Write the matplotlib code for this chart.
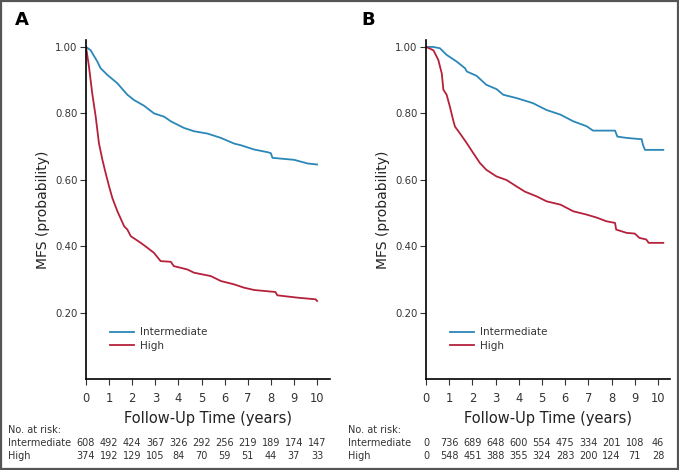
import matplotlib
matplotlib.use("Agg")
import matplotlib.pyplot as plt
from matplotlib.patches import Rectangle
import matplotlib.transforms as mtransforms

# Panel A (time in years, survival probability)
a_int_t = [0, 0.2, 0.49, 0.63, 0.92, 1.35, 1.79, 2.08, 2.51, 2.94, 3.38, 3.67, 4.24, 4.68,
           5.26, 5.84, 6.41, 6.7, 7.28, 7.86, 8.0, 8.07, 9.01, 9.59, 10.0]
a_int_s = [1.0, 0.99, 0.956, 0.936, 0.916, 0.891, 0.856, 0.84, 0.823, 0.80, 0.79, 0.776, 0.756, 0.746,
           0.739, 0.726, 0.709, 0.704, 0.691, 0.683, 0.68, 0.666, 0.66, 0.649, 0.646]
a_high_t = [0, 0.13, 0.27, 0.42, 0.56, 0.71, 0.85, 1.0, 1.14, 1.36, 1.65, 1.79, 1.94, 2.37, 2.66,
            2.94, 3.23, 3.67, 3.8, 4.38, 4.68, 5.4, 5.84, 6.41, 6.84, 7.28, 8.2, 8.28, 9.15, 9.94, 10.0]
a_high_s = [1.0, 0.94, 0.86, 0.79, 0.71, 0.66, 0.62, 0.58, 0.545, 0.505, 0.46, 0.45, 0.43, 0.41, 0.395,
            0.38, 0.355, 0.353, 0.34, 0.33, 0.32, 0.31, 0.295, 0.285, 0.275, 0.268, 0.262, 0.252, 0.245,
            0.24, 0.235]

# Panel B
b_int_t = [0, 0.3, 0.6, 0.89, 1.32, 1.68, 1.76, 2.18, 2.6, 3.04, 3.33, 3.9, 4.6, 5.2, 5.8, 6.35, 6.93,
           7.2, 8.15, 8.25, 8.65, 9.3, 9.35, 9.44, 10.23]
b_int_s = [1.0, 1.0, 0.996, 0.976, 0.956, 0.936, 0.926, 0.913, 0.886, 0.873, 0.856, 0.846, 0.831, 0.81,
           0.796, 0.776, 0.761, 0.748, 0.748, 0.73, 0.726, 0.722, 0.706, 0.69, 0.69]
b_high_t = [0, 0.32, 0.53, 0.68, 0.75, 0.89, 1.03, 1.17, 1.25, 1.46, 1.76, 2.04, 2.33, 2.6, 3.04, 3.48,
            3.9, 4.27, 4.77, 5.2, 5.8, 6.35, 6.93, 7.36, 7.78, 8.15, 8.2, 8.65, 9.0, 9.2, 9.5, 9.6, 10.23]
b_high_s = [1.0, 0.99, 0.961, 0.92, 0.871, 0.856, 0.82, 0.78, 0.76, 0.74, 0.71, 0.68, 0.65, 0.63, 0.61,
            0.599, 0.58, 0.564, 0.55, 0.535, 0.525, 0.505, 0.495, 0.486, 0.475, 0.47, 0.45, 0.44, 0.438,
            0.425, 0.42, 0.41, 0.41]

# numbers at risk
risk_t = list(range(0, 11))
a_risk_int = [608, 492, 424, 367, 326, 292, 256, 219, 189, 174, 147]
a_risk_high = [374, 192, 129, 105, 84, 70, 59, 51, 44, 37, 33]
b_risk_int = [0, 736, 689, 648, 600, 554, 475, 334, 201, 108, 46]
b_risk_high = [0, 548, 451, 388, 355, 324, 283, 200, 124, 71, 28]

yticks = [0.2, 0.4, 0.6, 0.8, 1.0]
blue = "#2b87b8"
red = "#b5213b"
txt = "#333333"

fig = plt.figure(figsize=(6.79, 4.70), dpi=100)
fig.patches.append(Rectangle((0.0015, 0.002), 0.997, 0.996, transform=fig.transFigure,
                             fill=False, edgecolor="#555555", linewidth=1.6))

def draw_panel(left, width, label, label_x, xmax, int_t, int_s, high_t, high_s, risk_int, risk_high):
  ax = fig.add_axes([left, 0.1936, width, 0.7214])
  ax.plot(int_t, int_s, color=blue, lw=1.3, label="Intermediate")
  ax.plot(high_t, high_s, color=red, lw=1.3, label="High")
  ax.set_xlim(0, xmax)
  ax.set_ylim(0, 1.021)
  ax.set_xticks(range(0, 11))
  ax.set_yticks(yticks)
  ax.set_yticklabels([f"{v:.2f}" for v in yticks])
  ax.tick_params(axis="x", labelsize=8.3, colors=txt, length=4, width=0.8, pad=5)
  ax.tick_params(axis="y", labelsize=7.3, colors=txt, length=4, width=0.8, pad=2)
  for s in ["top", "right"]:
    ax.spines[s].set_visible(False)
  for s in ["left", "bottom"]:
    ax.spines[s].set_linewidth(1.2)
  ax.set_xlabel("Follow-Up Time (years)", fontsize=10.5, color="#222222", labelpad=5)
  ax.set_ylabel("MFS (probability)", fontsize=10, color="#222222", labelpad=4)
  ax.legend(loc="lower left", bbox_to_anchor=(0.06, 0.055), frameon=False, fontsize=7.5,
            handlelength=2.3, handletextpad=0.6, labelspacing=0.35, labelcolor=txt)
  fig.text(label_x, 1 - 20 / 470, label, fontsize=13, fontweight="bold", ha="center", va="center")

  trans = mtransforms.blended_transform_factory(ax.transData, fig.transFigure)
  for t, n in zip(risk_t, risk_int):
    ax.text(t, 1 - 443 / 470, str(n), transform=trans, ha="center", va="center", fontsize=7, color=txt)
  for t, n in zip(risk_t, risk_high):
    ax.text(t, 1 - 456 / 470, str(n), transform=trans, ha="center", va="center", fontsize=7, color=txt)
  return ax

draw_panel(86 / 679, 244 / 679, "A", 22 / 679, 10.56, a_int_t, a_int_s, a_high_t, a_high_s,
           a_risk_int, a_risk_high)
draw_panel(426 / 679, 244 / 679, "B", 368 / 679, 10.52, b_int_t, b_int_s, b_high_t, b_high_s,
           b_risk_int, b_risk_high)

for x0 in [8 / 679, 348 / 679]:
  fig.text(x0, 1 - 430 / 470, "No. at risk:", fontsize=7, color=txt, va="center")
  fig.text(x0, 1 - 443 / 470, "Intermediate", fontsize=7, color=txt, va="center")
  fig.text(x0, 1 - 456 / 470, "High", fontsize=7, color=txt, va="center")

fig.savefig("out.png", dpi=100)
